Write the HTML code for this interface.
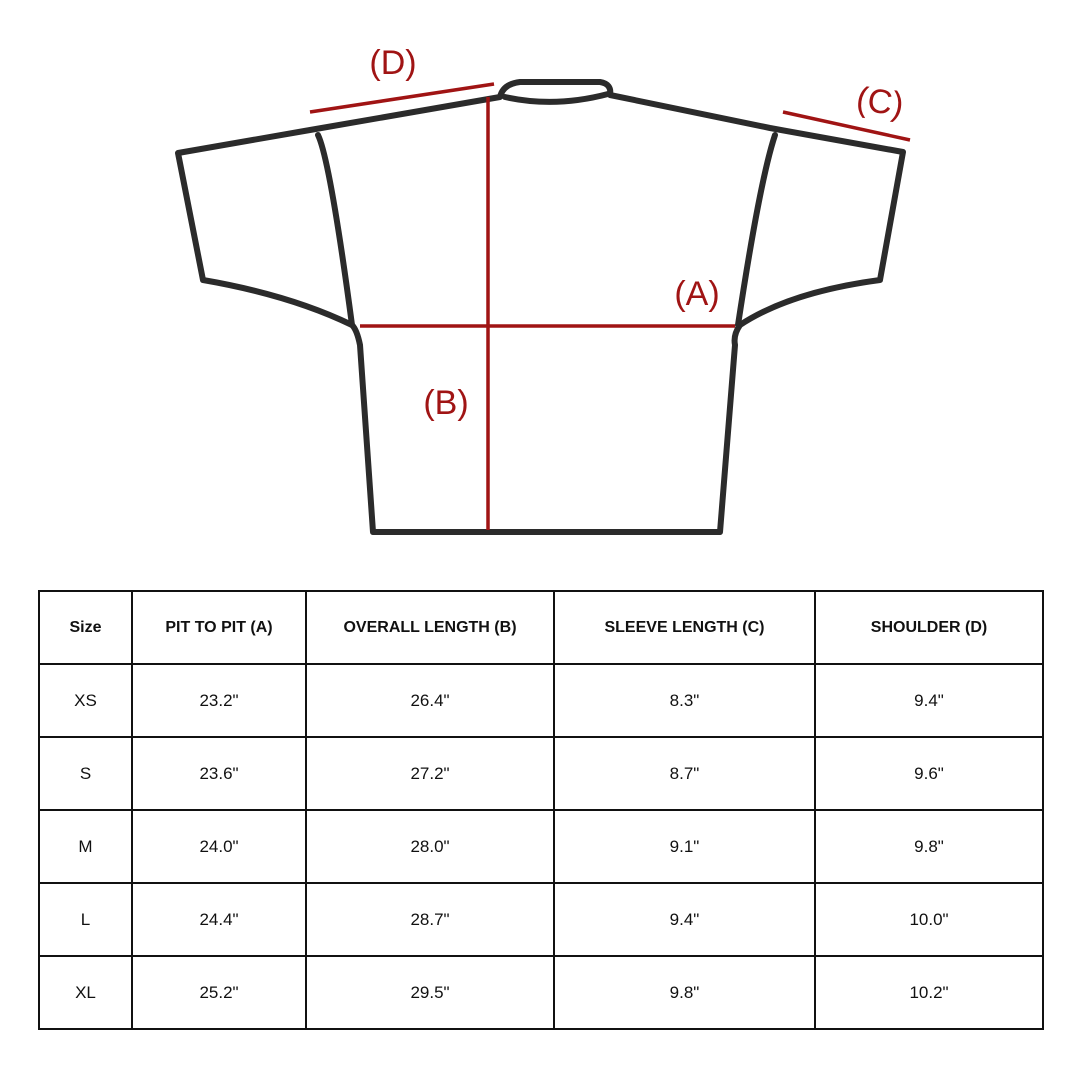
<!DOCTYPE html>
<html><head><meta charset="utf-8"><style>
body{margin:0;width:1080px;height:1080px;background:#fff;position:relative;font-family:"Liberation Sans",sans-serif;overflow:hidden}
svg{position:absolute;left:0;top:0}
table{position:absolute;left:38px;top:590px;border-collapse:collapse;width:1005px;height:440px;table-layout:fixed}
tr{height:73px}
td{border:2.5px solid #111;text-align:center;font-size:17px;color:#111;padding:0;height:71px}
tr:first-child td{font-weight:bold;font-size:16px}
</style></head><body>
<svg width="1080" height="580" viewBox="0 0 1080 580">
<g fill="none" stroke="#2b2b2b" stroke-width="6" stroke-linejoin="round" stroke-linecap="round">
<path d="M178,153 L310,130 L500,97 Q503,84 520,82 L600,82 Q612,84 610,95 L770,128 L903,152 L880,280 Q790,292 740,325 Q733,335 735,345 L720,532 L373,532 L360,345 Q357,330 352,325 Q290,295 203,280 Z"/>
<path d="M505,97 Q555,108 608,94"/>
<path d="M318,135 Q330,160 352,325"/>
<path d="M775,135 Q760,180 738,325"/>
</g>
<g stroke="#a01414" stroke-width="3.5">
<line x1="488" y1="97" x2="488" y2="530"/>
<line x1="360" y1="326" x2="735" y2="326"/>
<line x1="310" y1="112" x2="494" y2="84"/>
<line x1="783" y1="112" x2="910" y2="140"/>
</g>
<g fill="#a01414" font-family="Liberation Sans,sans-serif" font-size="34" text-anchor="middle">
<text x="393" y="74">(D)</text>
<text x="880" y="113" transform="rotate(8 880 102)">(C)</text>
<text x="697" y="305">(A)</text>
<text x="446" y="414">(B)</text>
</g>
</svg>
<table>
<colgroup><col style="width:93px"><col style="width:174px"><col style="width:248px"><col style="width:261px"><col style="width:228px"></colgroup>
<tr><td>Size</td><td>PIT TO PIT (A)</td><td>OVERALL LENGTH (B)</td><td>SLEEVE LENGTH (C)</td><td>SHOULDER (D)</td></tr>
<tr><td>XS</td><td>23.2"</td><td>26.4"</td><td>8.3"</td><td>9.4"</td></tr>
<tr><td>S</td><td>23.6"</td><td>27.2"</td><td>8.7"</td><td>9.6"</td></tr>
<tr><td>M</td><td>24.0"</td><td>28.0"</td><td>9.1"</td><td>9.8"</td></tr>
<tr><td>L</td><td>24.4"</td><td>28.7"</td><td>9.4"</td><td>10.0"</td></tr>
<tr><td>XL</td><td>25.2"</td><td>29.5"</td><td>9.8"</td><td>10.2"</td></tr>
</table>
</body></html>
